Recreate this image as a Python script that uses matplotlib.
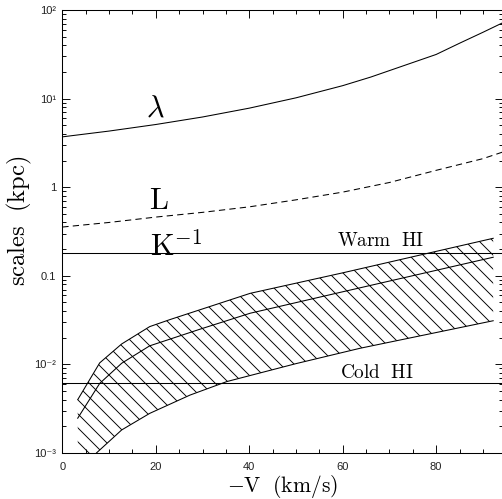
import matplotlib
matplotlib.use("Agg")
import matplotlib.pyplot as plt
import numpy as np
from matplotlib.ticker import FixedLocator, FixedFormatter, MultipleLocator, LogLocator, NullFormatter

plt.rcParams['mathtext.fontset'] = 'cm'
plt.rcParams['hatch.linewidth'] = 0.8

# ---- data ----
lam_v = [0, 10, 20, 30, 40, 50, 60, 66, 72.3, 80, 85.1, 90, 94.3]
lam_s = [3.7, 4.3, 5.1, 6.2, 7.8, 10.2, 14.0, 17.5, 22.8, 31.5, 42.4, 56.0, 72.0]

L_v = [0, 10, 20, 30, 40, 50, 60, 70, 80, 90, 94.3]
L_s = [0.355, 0.40, 0.46, 0.52, 0.60, 0.72, 0.88, 1.13, 1.55, 2.1, 2.5]

K_up_v = [3.3, 8, 12.7, 18.7, 23, 40.2, 60, 78.7, 92.2]
K_up_s = [0.0040, 0.0104, 0.017, 0.0267, 0.032, 0.0634, 0.108, 0.182, 0.265]

K_mid_v = [3.3, 8, 12.7, 18.7, 29.4, 40.2, 60, 92.2]
K_mid_s = [0.00247, 0.0061, 0.0103, 0.0162, 0.0249, 0.0378, 0.066, 0.162]

K_lo_v = [3.3, 7.3, 12.7, 18.7, 27.3, 35.2, 50, 63.7, 92.2]
K_lo_s = [0.0005, 0.001, 0.00182, 0.0028, 0.0045, 0.0064, 0.0102, 0.0152, 0.0311]

warm_HI = 0.18
cold_HI = 0.0062

ytick_vals = [1e-3, 1e-2, 0.1, 1, 10, 100]
ytick_labels = ['10⁻³', '10⁻²', '0.1', '1', '10¹', '10²']
xtick_vals = [0, 20, 40, 60, 80]
xtick_labels = ['0', '20', '40', '60', '80']

# ---- figure ----
DPI = 84
fig = plt.figure(figsize=(502 / DPI, 499 / DPI), dpi=DPI)
ax = fig.add_axes([62.3 / 502, 46 / 499, (503 - 62.3) / 502, (453 - 10) / 499])

poly_x = list(K_up_v) + list(K_lo_v[::-1])
poly_y = list(K_up_s) + list(K_lo_s[::-1])
ax.fill(poly_x, poly_y, facecolor='none', edgecolor='black', hatch='\\\\', linewidth=0)

lw = 0.9
ax.plot(lam_v, lam_s, color='black', lw=lw)
ax.plot(L_v, L_s, color='black', lw=lw, linestyle=(0, (6, 4)))
ax.plot(K_up_v, K_up_s, color='black', lw=lw)
ax.plot(K_mid_v, K_mid_s, color='black', lw=lw)
ax.plot(K_lo_v, K_lo_s, color='black', lw=lw)
ax.axhline(warm_HI, color='black', lw=lw)
ax.axhline(cold_HI, color='black', lw=lw)

ax.set_yscale('log')
ax.set_xlim(0, 94.3)
ax.set_ylim(1e-3, 100)

ax.xaxis.set_major_locator(FixedLocator(xtick_vals))
ax.xaxis.set_major_formatter(FixedFormatter(xtick_labels))
ax.xaxis.set_minor_locator(MultipleLocator(5))
ax.yaxis.set_major_locator(FixedLocator(ytick_vals))
ax.yaxis.set_major_formatter(FixedFormatter(ytick_labels))
ax.yaxis.set_minor_locator(LogLocator(base=10, subs=np.arange(2, 10)))
ax.yaxis.set_minor_formatter(NullFormatter())

ax.tick_params(which='both', direction='in', top=True, right=True, width=0.8, color='black')
ax.tick_params(which='major', length=7)
ax.tick_params(which='minor', length=3.5)
ax.tick_params(axis='both', which='major', labelsize=9.5, labelcolor='#222222')
ax.tick_params(axis='x', pad=8)
ax.tick_params(axis='y', pad=5)
for lab in ax.get_xticklabels() + ax.get_yticklabels():
    lab.set_family(['Liberation Sans', 'DejaVu Sans'])
for s in ax.spines.values():
    s.set_linewidth(0.9)

ax.set_xlabel(r'$-\mathrm{V\ \ (km/s)}$', fontsize=18.5, labelpad=1)
ax.set_ylabel(r'$\mathrm{scales\ \ (kpc)}$', fontsize=21)
ax.yaxis.set_label_coords(-0.064, 0.524)

ax.text(19.9, 6.2, r'$\lambda$', fontsize=26, ha='center', va='baseline')
ax.text(20.6, 0.57, r'$\mathrm{L}$', fontsize=26, ha='center', va='baseline')
ax.text(18.7, 0.167, r'$\mathrm{K}^{-1}$', fontsize=26, ha='left', va='baseline')
ax.text(58.8, 0.219, r'$\mathrm{Warm\ \ HI}$', fontsize=16.5, ha='left', va='baseline')
ax.text(59.4, 0.0070, r'$\mathrm{Cold\ \ HI}$', fontsize=16.5, ha='left', va='baseline')

fig.savefig('out.png', dpi=DPI)
